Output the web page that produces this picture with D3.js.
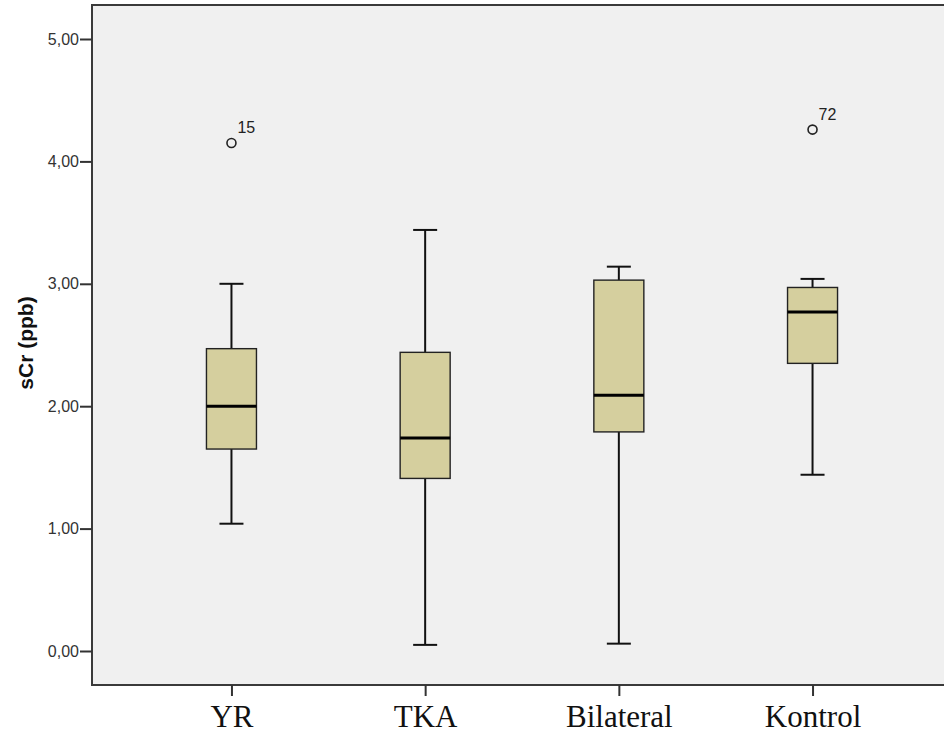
<!DOCTYPE html>
<html>
<head>
<meta charset="utf-8">
<script src="https://cdn.jsdelivr.net/npm/d3@7"></script>
<style>
  html, body { margin: 0; padding: 0; background: #fff; overflow: hidden; }
  svg { display: block; }
</style>
</head>
<body>
<div id="chart"></div>
<script>
// ── Datos ─────────────────────────────────────────────
const categories  = ['YR', 'TKA', 'Bilateral', 'Kontrol'];
const whiskerLow  = [1.04, 0.05, 0.06, 1.44];
const q1          = [1.65, 1.41, 1.79, 2.35];
const medians     = [2.00, 1.74, 2.09, 2.77];
const q3          = [2.47, 2.44, 3.03, 2.97];
const whiskerHigh = [3.00, 3.44, 3.14, 3.04];
const outliers    = [
    { cat: 'YR',      value: 4.15, label: '15' },
    { cat: 'Kontrol', value: 4.26, label: '72' }
];
const yTicks = [0, 1, 2, 3, 4, 5];

const W = 944, H = 737;
const plot = { left: 92, top: 5, right: 952, bottom: 685 };

const svg = d3.select('#chart').append('svg')
    .attr('width', W).attr('height', H);

const x = d3.scalePoint()
    .domain(categories)
    .range([plot.left, plot.right])
    .padding(0.72);

const y = d3.scaleLinear()
    .domain([0, 5])
    .range([651, 39]);

// Fondo del área de trazado
svg.append('rect')
    .attr('x', plot.left).attr('y', plot.top)
    .attr('width', plot.right - plot.left).attr('height', plot.bottom - plot.top)
    .attr('fill', '#f0f0f0')
    .attr('stroke', '#3a3a3a').attr('stroke-width', 2);

// Eje Y
const yAxis = svg.append('g')
    .attr('transform', `translate(${plot.left},0)`)
    .call(d3.axisLeft(y).tickValues(yTicks).tickSize(12).tickPadding(1)
        .tickFormat(d => d3.format('.2f')(d).replace('.', ',')));
yAxis.select('.domain').remove();
yAxis.selectAll('.tick line').attr('stroke', '#333').attr('stroke-width', 2);
yAxis.selectAll('.tick text')
    .style('font-family', 'Arial, "Liberation Sans", sans-serif')
    .style('font-size', '16px').style('fill', '#333');

// Eje X
const xAxis = svg.append('g')
    .attr('transform', `translate(0,${plot.bottom})`)
    .call(d3.axisBottom(x).tickSize(11));
xAxis.select('.domain').remove();
xAxis.selectAll('.tick line').attr('stroke', '#333').attr('stroke-width', 2);
xAxis.selectAll('.tick text')
    .attr('y', 42).attr('dy', 0)
    .style('font-family', '"Times New Roman", "Liberation Serif", serif')
    .style('font-size', '31px').style('fill', '#111');

// Título eje Y
svg.append('text')
    .attr('transform', `translate(33,${y(2.5) - 2}) rotate(-90)`)
    .attr('text-anchor', 'middle')
    .style('font-family', 'Arial, "Liberation Sans", sans-serif')
    .style('font-size', '21px').style('font-weight', 'bold').style('fill', '#111')
    .text('sCr (ppb)');

// Cajas
const boxW = 50, capW = 24;
const boxes = categories.map((c, i) => ({
    cat: c, lo: whiskerLow[i], q1: q1[i], med: medians[i], q3: q3[i], hi: whiskerHigh[i]
}));

const g = svg.append('g');
boxes.forEach(b => {
    const cx = x(b.cat);
    // Bigotes
    g.append('line').attr('x1', cx).attr('x2', cx).attr('y1', y(b.hi)).attr('y2', y(b.q3))
        .attr('stroke', '#111').attr('stroke-width', 2);
    g.append('line').attr('x1', cx).attr('x2', cx).attr('y1', y(b.q1)).attr('y2', y(b.lo))
        .attr('stroke', '#111').attr('stroke-width', 2);
    [b.hi, b.lo].forEach(v => {
        g.append('line').attr('x1', cx - capW / 2).attr('x2', cx + capW / 2)
            .attr('y1', y(v)).attr('y2', y(v))
            .attr('stroke', '#111').attr('stroke-width', 2);
    });
    // Caja
    g.append('rect')
        .attr('x', cx - boxW / 2).attr('y', y(b.q3))
        .attr('width', boxW).attr('height', y(b.q1) - y(b.q3))
        .attr('fill', '#d5cf9e').attr('stroke', '#222').attr('stroke-width', 1.4);
    // Mediana
    g.append('line').attr('x1', cx - boxW / 2).attr('x2', cx + boxW / 2)
        .attr('y1', y(b.med)).attr('y2', y(b.med))
        .attr('stroke', '#000').attr('stroke-width', 3);
});

// Valores atípicos
outliers.forEach(o => {
    const cx = x(o.cat), cy = y(o.value);
    g.append('circle').attr('cx', cx).attr('cy', cy).attr('r', 4.5)
        .attr('fill', 'none').attr('stroke', '#222').attr('stroke-width', 1.6);
    g.append('text').attr('x', cx + 6).attr('y', cy - 10)
        .style('font-family', 'Arial, "Liberation Sans", sans-serif')
        .style('font-size', '16px').style('fill', '#222')
        .text(o.label);
});
</script>
</body>
</html>
